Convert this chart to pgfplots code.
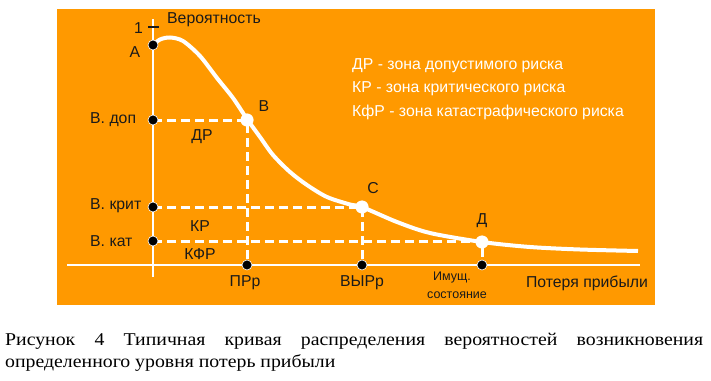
\documentclass[border=0pt]{standalone}
\usepackage{pgfplots}
\pgfplotsset{compat=1.18}
\usepackage{fontspec}
\setmainfont[FakeStretch=1.1]{Liberation Serif}
\setsansfont{Liberation Sans}
\definecolor{bg}{HTML}{FF9900}
\definecolor{ink}{HTML}{1A1A1A}
\begin{document}
\begin{tikzpicture}
\begin{axis}[scale only axis, width=711bp, height=381bp,
  xmin=0, xmax=711, ymin=0, ymax=381, y dir=reverse,
  hide axis, clip=false]
% background panel
\addplot[fill=bg, draw=none] coordinates {(57,9) (655,9) (655,305) (57,305)} -- cycle;
\path (axis cs:0,0) rectangle (axis cs:711,381);
% axes
\addplot[white, line width=2bp] coordinates {(67,265) (640,265)};
\addplot[white, line width=2bp] coordinates {(153,19) (153,277)};
\addplot[ink, line width=1.5bp] coordinates {(148,27) (159,27)};
% dashed guide lines
\addplot[white, line width=3bp, dash pattern=on 9bp off 5bp] coordinates {(153,120) (247,120) (247,265)};
\addplot[white, line width=3bp, dash pattern=on 9bp off 5bp] coordinates {(153,207) (362,207) (362,265)};
\addplot[white, line width=3bp, dash pattern=on 9bp off 5bp] coordinates {(153,241) (482,241) (482,265)};
% curve
\addplot[white, line width=4bp, smooth, tension=0.5] coordinates {
 (153,45) (160,39.5) (170,37.5) (183,41) (200,56) (217,78) (233,98) (247,119)
 (260,137) (273,155) (290,172) (307,185) (327,197) (350,204.5) (362,207)
 (397,222) (430,233) (482,242) (530,247) (580,249.5) (638,251)};
% points on curve
\addplot[only marks, mark=*, mark size=6.3bp, mark options={fill=white, draw=white}] coordinates {(247,120) (362,207) (482,242)};
% black points on axes
\addplot[only marks, mark=*, mark size=5bp, mark options={fill=black, draw=white, line width=0.6bp}] coordinates {
 (153,45) (153,120) (153,207) (153,241) (247,265) (362,265) (482,265)};
% labels
\begin{scope}[every node/.style={font=\sffamily\fontsize{15.8bp}{18bp}\selectfont, text=ink, inner sep=0pt}]
\node[anchor=east] at (axis cs:143,28) {1};
\node[anchor=west] at (axis cs:167,20) {Вероятность};
\node at (axis cs:135,52) {А};
\node[anchor=west] at (axis cs:90,120) {В. доп};
\node[anchor=west] at (axis cs:90,206) {В. крит};
\node[anchor=west] at (axis cs:90,241) {В. кат};
\node at (axis cs:264,106) {В};
\node at (axis cs:373,188) {С};
\node at (axis cs:482,221) {Д};
\node at (axis cs:202,137) {ДР};
\node at (axis cs:200,226) {КР};
\node at (axis cs:200,254) {КФР};
\node at (axis cs:245,283) {ПРр};
\node at (axis cs:362,283) {ВЫРр};
\node at (axis cs:587,283) {Потеря прибыли};
\node[font=\sffamily\fontsize{12.5bp}{14bp}\selectfont] at (axis cs:452,277) {Имущ.};
\node[font=\sffamily\fontsize{12.5bp}{14bp}\selectfont] at (axis cs:457,295) {состояние};
\node[anchor=west, text=white] at (axis cs:352,66) {ДР - зона допустимого риска};
\node[anchor=west, text=white] at (axis cs:352,89) {КР - зона критического риска};
\node[anchor=west, text=white] at (axis cs:352,112) {КфР - зона катастрафического риска};
\end{scope}
% caption
\node[anchor=base west, text width=698bp, align=justify, inner sep=0pt,
  font=\rmfamily\fontsize{18bp}{22bp}\selectfont] at (axis cs:5,345)
  {Рисунок 4 Типичная кривая распределения вероятностей возникновения\linebreak определенного уровня потерь прибыли};
\end{axis}
\end{tikzpicture}
\end{document}
